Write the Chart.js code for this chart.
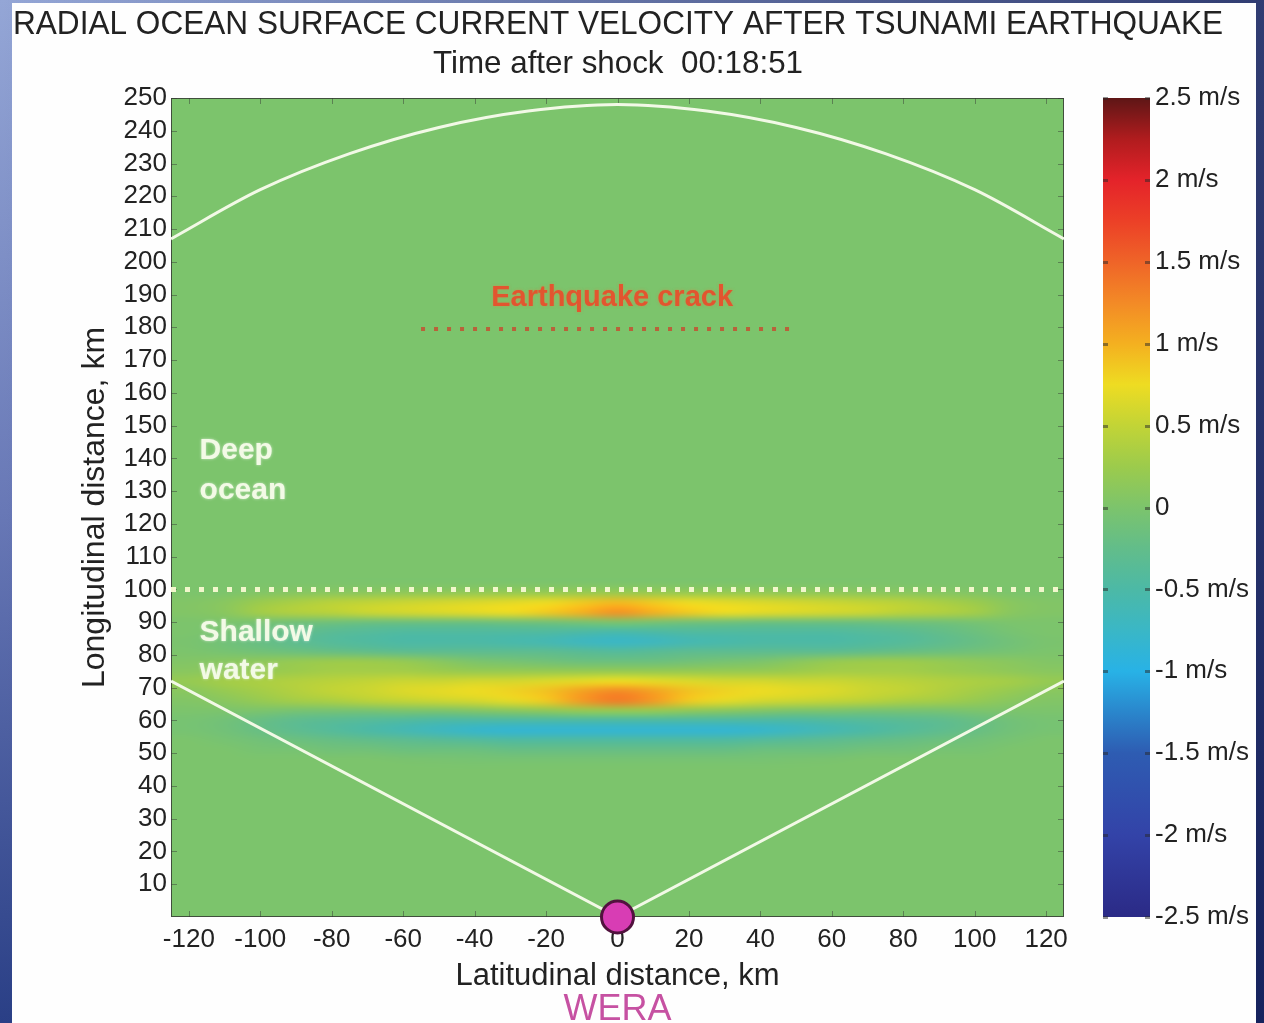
<!DOCTYPE html>
<html>
<head>
<meta charset="utf-8">
<script src="https://cdn.jsdelivr.net/npm/chart.js@4.4.1/dist/chart.umd.min.js"></script>
<style>
  html, body { margin: 0; padding: 0; }
  body {
    width: 1264px;
    height: 1023px;
    overflow: hidden;
    background:
      linear-gradient(to right, rgba(15, 25, 80, 0) 0%, rgba(15, 25, 80, 0.75) 100%),
      linear-gradient(to bottom, #94a6d6 0%, #6878b6 50%, #2a3f86 100%);
  }
  #panel {
    position: absolute;
    left: 12px;
    top: 3px;
    width: 1244px;
    height: 1020px;
    background: #fefefe;
  }
  canvas { display: block; }
</style>
</head>
<body>
<div id="panel"><canvas id="chart" width="1244" height="1020"></canvas></div>
<script>
const FONT = '"Liberation Sans", Arial, Helvetica, sans-serif';
const TEXT = "#222222";

// axis ticks
const xTicks = [-120, -100, -80, -60, -40, -20, 0, 20, 40, 60, 80, 100, 120];
const yTicks = [10, 20, 30, 40, 50, 60, 70, 80, 90, 100, 110, 120, 130, 140, 150,
  160, 170, 180, 190, 200, 210, 220, 230, 240, 250];
const cbTicks = [2.5, 2, 1.5, 1, 0.5, 0, -0.5, -1, -1.5, -2, -2.5];

// velocity grid (m/s), columns every 10 km, rows every 3 km
const cellX = [-120, -110, -100, -90, -80, -70, -60, -50, -40, -30, -20, -10, 0,
  10, 20, 30, 40, 50, 60, 70, 80, 90, 100, 110, 120];
const cellY = [102, 99, 96, 93, 90, 87, 84, 81, 78, 75, 72, 69, 66, 63, 60, 57, 54, 51, 48, 45];
const velocity = [
  [0, 0, 0, 0, 0, 0, 0, 0, 0, 0, 0, 0, 0, 0, 0, 0, 0, 0, 0, 0, 0, 0, 0, 0, 0],
  [0, 0, 0.05, 0.08, 0.1, 0.12, 0.15, 0.15, 0.18, 0.2, 0.2, 0.22, 0.22, 0.22, 0.2, 0.2, 0.18, 0.15, 0.15, 0.12, 0.1, 0.08, 0.05, 0, 0],
  [0.05, 0.1, 0.25, 0.35, 0.45, 0.5, 0.55, 0.6, 0.65, 0.7, 0.75, 0.85, 0.95, 0.85, 0.75, 0.7, 0.65, 0.6, 0.55, 0.5, 0.45, 0.35, 0.25, 0.1, 0.05],
  [0.05, 0.1, 0.3, 0.4, 0.45, 0.55, 0.6, 0.65, 0.7, 0.75, 0.85, 1.0, 1.2, 1.0, 0.85, 0.75, 0.7, 0.65, 0.6, 0.55, 0.45, 0.4, 0.3, 0.1, 0.05],
  [0, 0, -0.05, -0.1, -0.12, -0.15, -0.15, -0.15, -0.15, -0.12, -0.1, -0.05, 0, -0.05, -0.1, -0.12, -0.15, -0.15, -0.15, -0.15, -0.12, -0.1, -0.05, 0, 0],
  [0, -0.05, -0.15, -0.25, -0.35, -0.4, -0.45, -0.45, -0.45, -0.45, -0.45, -0.5, -0.55, -0.5, -0.45, -0.45, -0.45, -0.45, -0.45, -0.4, -0.35, -0.25, -0.15, -0.05, 0],
  [-0.02, -0.1, -0.2, -0.3, -0.4, -0.45, -0.5, -0.5, -0.5, -0.55, -0.6, -0.7, -0.75, -0.7, -0.6, -0.55, -0.5, -0.5, -0.5, -0.45, -0.4, -0.3, -0.2, -0.1, -0.02],
  [0, -0.05, -0.1, -0.15, -0.2, -0.25, -0.3, -0.3, -0.3, -0.3, -0.3, -0.35, -0.4, -0.35, -0.3, -0.3, -0.3, -0.3, -0.3, -0.25, -0.2, -0.15, -0.1, -0.05, 0],
  [0.05, 0.1, 0.15, 0.2, 0.25, 0.25, 0.2, 0.1, 0, -0.05, -0.1, -0.15, -0.15, -0.15, -0.1, -0.05, 0, 0.1, 0.2, 0.25, 0.25, 0.2, 0.15, 0.1, 0.05],
  [0.1, 0.15, 0.2, 0.25, 0.3, 0.3, 0.3, 0.25, 0.2, 0.2, 0.2, 0.2, 0.2, 0.2, 0.2, 0.2, 0.2, 0.25, 0.3, 0.3, 0.3, 0.25, 0.2, 0.15, 0.1],
  [0.2, 0.3, 0.35, 0.4, 0.45, 0.5, 0.55, 0.55, 0.6, 0.6, 0.65, 0.7, 0.75, 0.7, 0.65, 0.6, 0.6, 0.55, 0.55, 0.5, 0.45, 0.4, 0.35, 0.3, 0.2],
  [0.1, 0.2, 0.3, 0.4, 0.5, 0.55, 0.65, 0.7, 0.75, 0.8, 0.9, 1.1, 1.25, 1.1, 0.9, 0.8, 0.75, 0.7, 0.65, 0.55, 0.5, 0.4, 0.3, 0.2, 0.1],
  [0.05, 0.1, 0.2, 0.3, 0.35, 0.45, 0.5, 0.55, 0.6, 0.7, 0.85, 1.15, 1.35, 1.15, 0.85, 0.7, 0.6, 0.55, 0.5, 0.45, 0.35, 0.3, 0.2, 0.1, 0.05],
  [0, 0, 0, -0.05, -0.05, -0.05, 0, 0, 0.05, 0.1, 0.15, 0.2, 0.2, 0.2, 0.15, 0.1, 0.05, 0, 0, -0.05, -0.05, -0.05, 0, 0, 0],
  [-0.05, -0.1, -0.2, -0.3, -0.35, -0.4, -0.45, -0.5, -0.5, -0.5, -0.5, -0.5, -0.5, -0.5, -0.5, -0.5, -0.5, -0.5, -0.45, -0.4, -0.35, -0.3, -0.2, -0.1, -0.05],
  [-0.05, -0.1, -0.2, -0.3, -0.4, -0.5, -0.6, -0.7, -0.8, -0.85, -0.85, -0.85, -0.85, -0.85, -0.85, -0.85, -0.8, -0.7, -0.6, -0.5, -0.4, -0.3, -0.2, -0.1, -0.05],
  [0, -0.05, -0.1, -0.15, -0.2, -0.25, -0.3, -0.35, -0.4, -0.45, -0.45, -0.45, -0.45, -0.45, -0.45, -0.45, -0.4, -0.35, -0.3, -0.25, -0.2, -0.15, -0.1, -0.05, 0],
  [0, 0, -0.05, -0.05, -0.1, -0.1, -0.15, -0.15, -0.15, -0.2, -0.2, -0.2, -0.2, -0.2, -0.2, -0.2, -0.15, -0.15, -0.15, -0.1, -0.1, -0.05, -0.05, 0, 0],
  [0, 0, 0, 0, 0, 0, -0.02, -0.03, -0.05, -0.05, -0.05, -0.05, -0.05, -0.05, -0.05, -0.05, -0.05, -0.03, -0.02, 0, 0, 0, 0, 0, 0],
  [0, 0, 0, 0, 0, 0, 0, 0, 0, 0, 0, 0, 0, 0, 0, 0, 0, 0, 0, 0, 0, 0, 0, 0, 0],
];

// overlay lines (km)
const arcX = [-125, -100, -75, -50, -25, 0, 25, 50, 75, 100, 125];
const arcY = [207, 222, 233, 241, 246, 248, 246, 241, 233, 222, 207];
const rangeX = [-125, 0, 125];
const rangeY = [72, 0, 72];
const shelfX = [-125, 125];
const shelfY = [100, 100];
const crackX = [-55, 50];
const crackY = [179.5, 179.5];
const weraX = [0];
const weraY = [0];

// colour bar stops
const cmap = [
  [-2.5, "#2b2a86"], [-2.0, "#3343a8"], [-1.5, "#2e5cb2"], [-1.25, "#2a86cc"],
  [-1.0, "#28b2e6"], [-0.75, "#3ab7c6"], [-0.5, "#4cb9a6"], [-0.25, "#62bd8a"],
  [0, "#7cc46c"], [0.25, "#9ccb4c"], [0.5, "#c2d436"], [0.75, "#eedc22"],
  [1.0, "#f4b020"], [1.25, "#f38a26"], [1.5, "#ef6428"], [1.75, "#ec4027"],
  [2.0, "#e4232a"], [2.25, "#b01c1e"], [2.5, "#5e1616"],
];

// wanted plot box inside the canvas
const target = { top: 95, bottom: 914, left: 159, right: 1052 };
const box = { padTop: 95, xHeight: 106, yWidth: 159, cbWidth: 192 };

function hex(c) {
  return [1, 3, 5].map((i) => parseInt(c.slice(i, i + 2), 16));
}

function colorAt(v) {
  if (v <= cmap[0][0]) return hex(cmap[0][1]);
  for (let i = 1; i < cmap.length; i++) {
    if (v <= cmap[i][0]) {
      const t = (v - cmap[i - 1][0]) / (cmap[i][0] - cmap[i - 1][0]);
      const a = hex(cmap[i - 1][1]);
      const b = hex(cmap[i][1]);
      return a.map((c, k) => Math.round(c + (b[k] - c) * t));
    }
  }
  return hex(cmap[cmap.length - 1][1]);
}

const pts = (xs, ys) => xs.map((x, i) => ({ x: x, y: ys[i] }));

const heatmap = {
  id: "heatmap",
  beforeDatasetsDraw(chart) {
    const { ctx, chartArea: a, scales } = chart;
    const x = scales.x;
    const y = scales.y;

    ctx.save();
    ctx.beginPath();
    ctx.rect(a.left, a.top, a.width, a.height);
    ctx.clip();
    ctx.fillStyle = "rgb(" + colorAt(0).join(",") + ")";
    ctx.fillRect(a.left, a.top, a.width, a.height);

    const off = document.createElement("canvas");
    off.width = cellX.length;
    off.height = cellY.length;
    const octx = off.getContext("2d");
    const img = octx.createImageData(off.width, off.height);
    velocity.forEach((row, r) => {
      row.forEach((v, c) => {
        const rgb = colorAt(v);
        const k = (r * off.width + c) * 4;
        img.data[k] = rgb[0];
        img.data[k + 1] = rgb[1];
        img.data[k + 2] = rgb[2];
        img.data[k + 3] = 255;
      });
    });
    octx.putImageData(img, 0, 0);

    const dx = cellX[1] - cellX[0];
    const dy = cellY[0] - cellY[1];
    const left = x.getPixelForValue(cellX[0] - dx / 2);
    const right = x.getPixelForValue(cellX[cellX.length - 1] + dx / 2);
    const top = y.getPixelForValue(cellY[0] + dy / 2);
    const bottom = y.getPixelForValue(cellY[cellY.length - 1] - dy / 2);
    ctx.imageSmoothingEnabled = true;
    ctx.imageSmoothingQuality = "high";
    ctx.drawImage(off, left, top, right - left, bottom - top);
    ctx.restore();

    // frame + inner ticks
    ctx.save();
    ctx.strokeStyle = "rgba(50,50,50,0.8)";
    ctx.lineWidth = 1;
    ctx.strokeRect(a.left + 0.5, a.top + 0.5, a.width - 1, a.height - 1);
    ctx.strokeStyle = "rgba(50,50,50,0.45)";
    ctx.beginPath();
    yTicks.forEach((v) => {
      const py = Math.round(y.getPixelForValue(v)) + 0.5;
      ctx.moveTo(a.left, py);
      ctx.lineTo(a.left + 6, py);
      ctx.moveTo(a.right, py);
      ctx.lineTo(a.right - 6, py);
    });
    xTicks.forEach((v) => {
      const px = Math.round(x.getPixelForValue(v)) + 0.5;
      ctx.moveTo(px, a.bottom);
      ctx.lineTo(px, a.bottom - 6);
      ctx.moveTo(px, a.top);
      ctx.lineTo(px, a.top + 6);
    });
    ctx.stroke();
    ctx.restore();

    // colour bar
    const yc = scales.yc;
    const cbL = yc.left + 39;
    const cbR = yc.left + 86;
    const cbTop = yc.getPixelForValue(2.5);
    const cbBot = yc.getPixelForValue(-2.5);
    const grad = ctx.createLinearGradient(0, cbBot, 0, cbTop);
    cmap.forEach(([v, c]) => grad.addColorStop((v + 2.5) / 5, c));
    ctx.save();
    ctx.fillStyle = grad;
    ctx.fillRect(cbL, cbTop, cbR - cbL, cbBot - cbTop);
    ctx.strokeStyle = "rgba(40,40,40,0.5)";
    ctx.beginPath();
    cbTicks.forEach((v) => {
      const py = Math.round(yc.getPixelForValue(v)) + 0.5;
      ctx.moveTo(cbL, py);
      ctx.lineTo(cbL + 5, py);
      ctx.moveTo(cbR, py);
      ctx.lineTo(cbR - 5, py);
    });
    ctx.stroke();
    ctx.restore();
  },
};

function drawCondensed(ctx, text, cx, baseline, font, width, color) {
  ctx.save();
  ctx.font = font;
  ctx.fillStyle = color;
  ctx.textAlign = "center";
  ctx.textBaseline = "alphabetic";
  const w = ctx.measureText(text).width;
  ctx.translate(cx, baseline);
  ctx.scale(width / w, 1);
  ctx.fillText(text, 0, 0);
  ctx.restore();
}

const labels = {
  id: "labels",
  afterDatasetsDraw(chart) {
    const { ctx } = chart;
    const x = chart.scales.x;
    const y = chart.scales.y;

    ctx.save();
    ctx.textBaseline = "middle";
    ctx.shadowColor = "rgba(255,255,255,0.6)";
    ctx.shadowBlur = 3;
    ctx.fillStyle = "#f3fae6";
    ctx.font = "bold 30px " + FONT;
    ctx.textAlign = "left";
    ctx.fillText("Deep", x.getPixelForValue(-117), y.getPixelForValue(142.4));
    ctx.fillText("ocean", x.getPixelForValue(-117), y.getPixelForValue(130.2));
    ctx.fillText("Shallow", x.getPixelForValue(-117), y.getPixelForValue(86.9));
    ctx.fillText("water", x.getPixelForValue(-117), y.getPixelForValue(75.3));

    ctx.shadowColor = "rgba(240,120,60,0.5)";
    ctx.fillStyle = "#e2552f";
    ctx.font = "bold 29px " + FONT;
    ctx.textAlign = "center";
    ctx.fillText("Earthquake crack", x.getPixelForValue(-1.5), y.getPixelForValue(189));
    ctx.restore();

    ctx.save();
    ctx.fillStyle = "#c651a2";
    ctx.font = "36px " + FONT;
    ctx.textAlign = "center";
    ctx.textBaseline = "alphabetic";
    ctx.fillText("WERA", x.getPixelForValue(0), 1017);
    ctx.restore();
  },
  afterDraw(chart) {
    const { ctx } = chart;
    drawCondensed(ctx, "RADIAL OCEAN SURFACE CURRENT VELOCITY AFTER TSUNAMI EARTHQUAKE",
      606, 31, "34px " + FONT, 1210, TEXT);
    drawCondensed(ctx, "Time after shock  00:18:51", 606, 70, "32px " + FONT, 370, TEXT);
  },
};

const tickFont = { family: FONT, size: 26 };

const chart = new Chart(document.getElementById("chart"), {
  type: "scatter",
  data: {
    datasets: [
      {
        label: "WERA",
        data: pts(weraX, weraY),
        pointRadius: 16,
        pointBackgroundColor: "#d83db4",
        pointBorderColor: "#51123e",
        pointBorderWidth: 3,
        clip: false,
      },
      {
        label: "Earthquake crack",
        data: pts(crackX, crackY),
        showLine: true,
        borderColor: "#b9623a",
        borderWidth: 4,
        borderDash: [4, 9],
        pointRadius: 0,
      },
      {
        label: "Shelf edge",
        data: pts(shelfX, shelfY),
        showLine: true,
        borderColor: "#f2f7cc",
        borderWidth: 5,
        borderDash: [5, 9],
        pointRadius: 0,
      },
      {
        label: "Radar range",
        data: pts(rangeX, rangeY),
        showLine: true,
        borderColor: "#f2f9e6",
        borderWidth: 3,
        pointRadius: 0,
      },
      {
        label: "Range arc",
        data: pts(arcX, arcY),
        showLine: true,
        borderColor: "#f2f9e6",
        borderWidth: 3,
        pointRadius: 0,
        cubicInterpolationMode: "monotone",
      },
    ],
  },
  options: {
    responsive: false,
    animation: false,
    events: [],
    layout: {
      autoPadding: false,
      padding: () => ({ top: box.padTop, left: 0, right: 0, bottom: 0 }),
    },
    plugins: {
      legend: { display: false },
      tooltip: { enabled: false },
    },
    scales: {
      x: {
        type: "linear",
        position: "bottom",
        min: -125,
        max: 125,
        afterBuildTicks: (s) => {
          s.ticks = xTicks.map((v) => ({ value: v }));
        },
        afterFit: (s) => {
          s.height = box.xHeight;
        },
        grid: { display: false, drawTicks: false },
        border: { display: false },
        ticks: { font: tickFont, color: TEXT, padding: 7, maxRotation: 0, autoSkip: false },
        title: {
          display: true,
          text: "Latitudinal distance, km",
          font: { family: FONT, size: 31 },
          color: TEXT,
          padding: { top: 0, bottom: 28 },
        },
      },
      y: {
        type: "linear",
        position: "left",
        min: 0,
        max: 250,
        afterBuildTicks: (s) => {
          s.ticks = yTicks.map((v) => ({ value: v }));
        },
        afterFit: (s) => {
          s.width = box.yWidth;
        },
        grid: { display: false, drawTicks: false },
        border: { display: false },
        ticks: { font: tickFont, color: TEXT, padding: 4, autoSkip: false },
        title: {
          display: true,
          text: "Longitudinal distance, km",
          font: { family: FONT, size: 32 },
          color: TEXT,
          padding: { top: 64, bottom: 0 },
        },
      },
      yc: {
        type: "linear",
        position: "right",
        min: -2.5,
        max: 2.5,
        afterBuildTicks: (s) => {
          s.ticks = cbTicks.map((v) => ({ value: v }));
        },
        afterFit: (s) => {
          s.width = box.cbWidth;
        },
        // tick length (hidden) pushes the labels past the colour bar
        grid: { display: false, drawTicks: true, tickLength: 86 },
        border: { display: false },
        ticks: {
          font: tickFont,
          color: TEXT,
          padding: 5,
          autoSkip: false,
          callback: (v) => (v === 0 ? "0" : v + " m/s"),
        },
      },
    },
  },
  plugins: [heatmap, labels],
});

// nudge the layout so the plot box lands where the reference has it
for (let i = 0; i < 3; i++) {
  const ca = chart.chartArea;
  box.padTop += target.top - ca.top;
  box.xHeight += ca.bottom - target.bottom;
  box.yWidth += target.left - ca.left;
  box.cbWidth += ca.right - target.right;
  chart.update();
}
</script>
</body>
</html>
